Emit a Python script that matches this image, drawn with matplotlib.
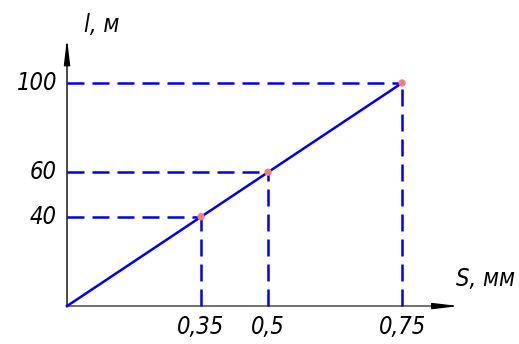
import matplotlib
matplotlib.use('Agg')
import matplotlib.pyplot as plt

# values (x axis is drawn schematically, proportional to l)
s_labels = ['0,35', '0,5', '0,75']
l_vals = [40, 60, 100]
l_labels = ['40', '60', '100']

blue = '#0000ee'
font = dict(family='DejaVu Sans', stretch='condensed', style='italic', fontsize=17)

fig = plt.figure(figsize=(5.19, 3.44), dpi=100)
ax = fig.add_axes([0, 0, 1, 1])
ax.set_xlim(-20, 134.9)
ax.set_ylim(-17.0, 137.2)
ax.axis('off')

# axes with arrows
arrow = '-|>,head_length=1.1,head_width=0.13'
ax.plot([0, 112], [0, 0], color='#666666', lw=1.3)
ax.annotate('', xy=(117, 0), xytext=(110, 0),
            arrowprops=dict(arrowstyle=arrow, color='black', lw=1.0,
                            mutation_scale=14, shrinkA=0, shrinkB=0))
ax.annotate('', xy=(0, 120), xytext=(0, 0),
            arrowprops=dict(arrowstyle=arrow, color='black', lw=1.0,
                            mutation_scale=14, shrinkA=0, shrinkB=0))

# main line through origin
ax.plot([0] + l_vals, [0] + l_vals, color=blue, lw=1.8, zorder=3)

# dashed guides
for v in l_vals:
    ax.plot([0, v], [v, v], color=blue, lw=1.8, dashes=(6.8, 3.2))
    ax.plot([v, v], [0, v], color=blue, lw=1.8, dashes=(6.8, 3.2))

ax.scatter(l_vals, l_vals, s=28, color='#f08080', zorder=4, edgecolors='none')

for v, lab in zip(l_vals, s_labels):
    ax.text(v, -4, lab, ha='center', va='top', **font)
for v, lab in zip(l_vals, l_labels):
    ax.text(-3, v, lab, ha='right', va='center', **font)

ax.text(5, 126, 'l, м', ha='left', va='center', **font)
ax.text(116, 12, 'S, мм', ha='left', va='center', **font)

fig.savefig('out.png', dpi=100)
